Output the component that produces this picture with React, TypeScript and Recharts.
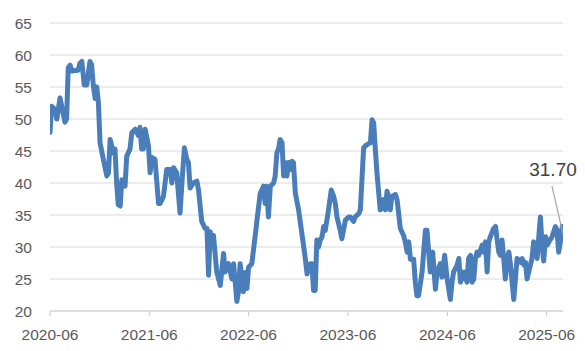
import React from "react";
import { LineChart, Line, XAxis, YAxis, CartesianGrid, ReferenceDot } from "recharts";

const dates = [
  "2020-06-01","2020-06-07","2020-06-19","2020-06-26","2020-07-08","2020-07-26","2020-08-01","2020-08-07","2020-08-14","2020-08-21",
  "2020-09-12","2020-09-19","2020-09-26","2020-10-05","2020-10-14","2020-10-26","2020-11-01","2020-11-07","2020-11-14","2020-11-20",
  "2020-11-26","2020-12-02","2020-12-14","2020-12-27","2021-01-02","2021-01-08","2021-01-14","2021-01-20","2021-01-26","2021-02-01",
  "2021-02-07","2021-02-14","2021-02-20","2021-03-04","2021-03-10","2021-03-22","2021-03-29","2021-04-10","2021-04-22","2021-04-28",
  "2021-05-04","2021-05-10","2021-05-17","2021-05-29","2021-06-04","2021-06-10","2021-06-22","2021-06-29","2021-07-05","2021-07-11",
  "2021-07-23","2021-08-04","2021-08-17","2021-08-23","2021-08-29","2021-09-10","2021-09-16","2021-09-22","2021-09-29","2021-10-08",
  "2021-10-17","2021-10-23","2021-10-29","2021-11-10","2021-11-23","2021-11-29","2021-12-11","2021-12-23","2021-12-30","2022-01-05",
  "2022-01-11","2022-01-17","2022-01-23","2022-02-04","2022-02-17","2022-03-01","2022-03-07","2022-03-19","2022-04-01","2022-04-07",
  "2022-04-19","2022-04-25","2022-05-01","2022-05-13","2022-05-20","2022-05-26","2022-06-01","2022-06-13","2022-06-25","2022-07-02",
  "2022-07-14","2022-07-26","2022-08-01","2022-08-07","2022-08-13","2022-08-20","2022-09-01","2022-09-07","2022-09-13","2022-09-19",
  "2022-09-25","2022-10-02","2022-10-08","2022-10-14","2022-10-20","2022-10-26","2022-11-01","2022-11-08","2022-11-13","2022-11-20",
  "2022-12-02","2022-12-14","2022-12-26","2023-01-02","2023-01-14","2023-01-20","2023-01-26","2023-02-01","2023-02-07","2023-02-13",
  "2023-02-20","2023-02-26","2023-03-04","2023-03-10","2023-03-22","2023-04-01","2023-04-10","2023-04-16","2023-04-22","2023-05-04",
  "2023-05-10","2023-05-16","2023-05-23","2023-06-04","2023-06-10","2023-06-22","2023-06-28","2023-07-11","2023-07-17","2023-07-29",
  "2023-08-10","2023-08-23","2023-08-29","2023-09-04","2023-09-10","2023-09-16","2023-09-28","2023-10-05","2023-10-11","2023-10-17",
  "2023-10-23","2023-10-29","2023-11-04","2023-11-10","2023-11-23","2023-11-29","2023-12-11","2023-12-23","2023-12-29","2024-01-05",
  "2024-01-11","2024-01-17","2024-01-29","2024-02-04","2024-02-10","2024-02-16","2024-02-29","2024-03-12","2024-03-18","2024-03-30",
  "2024-04-08","2024-04-18","2024-04-24","2024-05-06","2024-05-12","2024-05-22","2024-05-31","2024-06-12","2024-06-18","2024-06-24",
  "2024-07-07","2024-07-13","2024-07-19","2024-07-25","2024-07-31","2024-08-06","2024-08-12","2024-08-18","2024-08-25","2024-08-31",
  "2024-09-06","2024-09-12","2024-09-18","2024-09-24","2024-10-07","2024-10-13","2024-10-19","2024-10-25","2024-10-31","2024-11-06",
  "2024-11-18","2024-11-25","2024-12-01","2024-12-07","2024-12-13","2024-12-19","2024-12-25","2024-12-31","2025-01-07","2025-01-13",
  "2025-01-19","2025-01-31","2025-02-06","2025-02-12","2025-02-25","2025-03-03","2025-03-09","2025-03-15","2025-03-21","2025-04-02",
  "2025-04-08","2025-04-14","2025-04-21","2025-04-27","2025-05-03","2025-05-09","2025-05-15","2025-05-21","2025-05-28","2025-06-03",
  "2025-06-09","2025-06-21","2025-07-03","2025-07-09","2025-07-15","2025-07-22","2025-07-28","2025-07-31",
];

const values = [
  47.9, 52, 51.5, 50, 53.3, 49.5, 50, 58, 58.4, 57.5,
  57.6, 58.7, 59, 55.3, 55.3, 59, 58.5, 55.3, 53.2, 55,
  52.5, 46.3, 43.7, 41.1, 41.6, 46.8, 45.8, 44.7, 45.3, 40,
  36.6, 36.4, 40.5, 39.5, 44.2, 45.3, 47.9, 48.4, 47.4, 48.7,
  45.3, 45.3, 48.4, 45.8, 41.6, 44, 43.7, 40, 36.8, 36.8,
  37.9, 42.1, 42.1, 40, 42.4, 41.6, 38.4, 35.3, 40, 45.5,
  43.7, 43.2, 39.2, 40, 40.3, 38.9, 34, 32.9, 32.9, 25.6,
  32.4, 30.8, 31.8, 26.1, 24, 29, 26.1, 27.4, 25, 27.4,
  21.5, 23, 27.4, 23, 26, 23.5, 26.8, 27.4, 31.6, 34.2,
  38.4, 39.5, 36.8, 39.5, 34.7, 39.5, 40, 41.1, 44.7, 45.3,
  46.8, 46.3, 41.1, 43.2, 41.1, 43.2, 42.1, 43.4, 43.2, 38.4,
  35.8, 32.1, 28.4, 25.8, 27.4, 27.4, 23.2, 23.2, 31.1, 30,
  31.1, 31.6, 33.2, 32.6, 35.8, 38.9, 37.9, 36.8, 34.7, 32.6,
  31.3, 32.6, 34.2, 34.7, 34.7, 34, 34.7, 35.2, 35.8, 45.5,
  46, 46.3, 49.9, 49.4, 45.3, 41.6, 35.8, 36.3, 37.4, 35.8,
  38.7, 37.9, 35.8, 37.9, 38.2, 37.4, 32.9, 31.8, 30.8, 29.2,
  30.8, 28.1, 28.1, 24.5, 22.4, 22.4, 26.1, 32.6, 32.6, 26.1,
  29.2, 23.4, 26.1, 27.4, 25.3, 28.7, 25, 21.8, 24.5, 26.1,
  27.2, 28.2, 24.5, 26.1, 25, 26.1, 24.5, 28.2, 28.7, 24.5,
  25, 28.2, 29.2, 28.7, 30.3, 29.2, 30.8, 26.1, 30.8, 31.6,
  32.9, 33.2, 31.1, 29.2, 28.7, 31.1, 28.2, 25, 28.2, 29.2,
  27.2, 21.8, 25, 28.2, 27.6, 28.2, 27.2, 27.6, 25, 27.2,
  28.2, 30.8, 30.3, 28.2, 31.6, 34.7, 30.3, 27.8, 31.6, 30.3,
  30.8, 31.6, 33.2, 32.6, 29.2, 31, 33.2, 31.7,
];

const xTickLabels = ["2020-06", "2021-06", "2022-06", "2023-06", "2024-06", "2025-06"];
const yTicks = [20, 25, 30, 35, 40, 45, 50, 55, 60, 65];
const lastLabel = "31.70";

const data = dates.map((d, i) => ({ t: Date.parse(d), v: values[i] }));
const xTicks = xTickLabels.map((s) => Date.parse(s + "-01"));
const labelMap: Record<number, string> = {};
xTicks.forEach((t, i) => (labelMap[t] = xTickLabels[i]));

const FONT = "'Liberation Sans', Arial, sans-serif";

const EndLabel = (props: any) => {
  const vb = props.viewBox || {};
  const cx = vb.x + (vb.width || 0) / 2;
  const cy = vb.y + (vb.height || 0) / 2;
  return (
    <g>
      <line x1={cx - 11} y1={cy - 50} x2={cx} y2={cy - 2} stroke="#a6a6a6" strokeWidth={1.2} />
      <text x={cx - 10} y={cy - 60} textAnchor="middle" fontFamily={FONT} fontSize={19} fill="#404040">
        {lastLabel}
      </text>
    </g>
  );
};

export default function App() {
  const last = data[data.length - 1];
  return (
    <div style={{ position: "absolute", left: 0, top: 0, width: 585, height: 351, background: "#fff" }}>
      <LineChart width={585} height={351} data={data} margin={{ top: 23, right: 22, bottom: 10, left: 0 }}>
        <CartesianGrid horizontal vertical={false} stroke="#d9d9d9" strokeWidth={1.2} />
        <XAxis
          dataKey="t"
          type="number"
          scale="linear"
          domain={["dataMin", "dataMax"]}
          ticks={xTicks}
          tickFormatter={(t: number) => labelMap[t] || ""}
          axisLine={{ stroke: "#d0d0d0", strokeWidth: 1.2 }}
          tickLine={{ stroke: "#d0d0d0", strokeWidth: 1.2 }}
          tickSize={5}
          tickMargin={13}
          height={30}
          tick={{ fill: "#595959", fontSize: 15.5, fontFamily: FONT }}
          interval={0}
          allowDataOverflow
        />
        <YAxis
          type="number"
          domain={[20, 65]}
          ticks={yTicks}
          axisLine={false}
          tickLine={false}
          width={50}
          tickMargin={12}
          interval={0}
          tick={{ fill: "#595959", fontSize: 15.5, fontFamily: FONT }}
        />
        <Line
          type="linear"
          dataKey="v"
          stroke="#4a7ebb"
          strokeWidth={5}
          strokeLinejoin="round"
          strokeLinecap="round"
          dot={false}
          isAnimationActive={false}
        />
        <ReferenceDot x={last.t} y={last.v} r={0} fill="none" stroke="none" label={<EndLabel />} />
      </LineChart>
    </div>
  );
}
